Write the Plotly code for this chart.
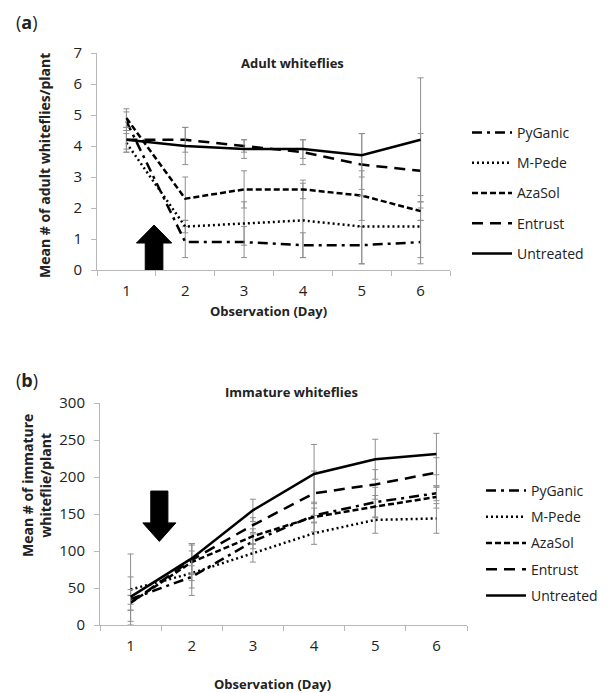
import plotly.graph_objects as go

days = [1, 2, 3, 4, 5, 6]
series_names = ["PyGanic", "M-Pede", "AzaSol", "Entrust", "Untreated"]

# Panel (a): adult whiteflies per plant
adult_pyganic = [4.8, 0.9, 0.9, 0.8, 0.8, 0.9]
adult_mpede = [4.1, 1.4, 1.5, 1.6, 1.4, 1.4]
adult_azasol = [4.9, 2.3, 2.6, 2.6, 2.4, 1.9]
adult_entrust = [4.2, 4.2, 4.0, 3.8, 3.4, 3.2]
adult_untreated = [4.2, 4.0, 3.9, 3.9, 3.7, 4.2]
adult_err_pyganic = [0.3, 0.5, 0.5, 0.4, 0.6, 0.7]
adult_err_mpede = [0.3, 0.2, 0.7, 1.2, 1.2, 1.0]
adult_err_azasol = [0.3, 0.7, 0.6, 0.3, 0.8, 0.3]
adult_err_entrust = [0.3, 0.4, 0.2, 0.4, 1.0, 1.2]
adult_err_untreated = [0.4, 0.6, 0.3, 0.3, 0.7, 2.0]

# Panel (b): immature whiteflies per plant
imm_pyganic = [35, 65, 113, 148, 166, 178]
imm_mpede = [48, 70, 97, 124, 142, 144]
imm_azasol = [30, 85, 120, 146, 160, 173]
imm_entrust = [30, 88, 135, 178, 190, 206]
imm_untreated = [38, 90, 155, 204, 224, 231]
imm_err_pyganic = [30, 15, 10, 10, 20, 10]
imm_err_mpede = [48, 30, 12, 15, 18, 20]
imm_err_azasol = [10, 25, 10, 20, 15, 15]
imm_err_entrust = [10, 20, 10, 30, 20, 20]
imm_err_untreated = [10, 20, 15, 40, 27, 28]

dashes = ["10px,5px,3px,5px", "2px,3px", "6px,3px", "11px,7px", "solid"]

adult_vals = [adult_pyganic, adult_mpede, adult_azasol, adult_entrust, adult_untreated]
adult_errs = [adult_err_pyganic, adult_err_mpede, adult_err_azasol, adult_err_entrust, adult_err_untreated]
imm_vals = [imm_pyganic, imm_mpede, imm_azasol, imm_entrust, imm_untreated]
imm_errs = [imm_err_pyganic, imm_err_mpede, imm_err_azasol, imm_err_entrust, imm_err_untreated]

FONT = "Open Sans"
TXT = "#222222"
AX = "#b8b8b8"
ERR = "#8f8f8f"

fig = go.Figure()

for name, vals, errs, dash in zip(series_names, adult_vals, adult_errs, dashes):
    fig.add_trace(go.Scatter(
        x=days, y=vals, name=name, mode="lines", xaxis="x", yaxis="y",
        line=dict(color="black", width=2.5, dash=dash),
        error_y=dict(type="data", array=errs, color=ERR, thickness=1, width=3),
        legend="legend", legendgroup="a" + name,
    ))

for name, vals, errs, dash in zip(series_names, imm_vals, imm_errs, dashes):
    fig.add_trace(go.Scatter(
        x=days, y=vals, name=name, mode="lines", xaxis="x2", yaxis="y2",
        line=dict(color="black", width=2.5, dash=dash),
        error_y=dict(type="data", array=errs, color=ERR, thickness=1, width=3),
        legend="legend2", legendgroup="b" + name,
    ))

W, H = 614, 693

def px(x):
    return x / W

def py(y):
    return 1 - y / H

cat_edges = [0.5, 1.5, 2.5, 3.5, 4.5, 5.5, 6.5]

def xaxis_def(dom, anchor, standoff):
    return dict(
        domain=dom, anchor=anchor, range=[0.5, 6.5], tickvals=days,
        ticktext=[str(d) for d in days], ticks="", showgrid=False, zeroline=False,
        showline=True, linecolor=AX, linewidth=1, automargin=False,
        tickfont=dict(family=FONT, size=15, color=TXT), ticklabelstandoff=standoff,
        minor=dict(tickvals=cat_edges, ticks="outside", ticklen=5, tickcolor=AX, showgrid=False),
    )

def yaxis_def(dom, anchor, rng, dtick):
    return dict(
        domain=dom, anchor=anchor, range=rng, dtick=dtick, ticks="outside", ticklen=5,
        tickcolor=AX, showgrid=False, zeroline=False, showline=True, linecolor=AX,
        linewidth=1, automargin=False, tickfont=dict(family=FONT, size=15, color=TXT),
        ticklabelstandoff=6,
    )

fig.update_layout(
    width=W, height=H, margin=dict(l=0, r=0, t=0, b=0, autoexpand=False),
    paper_bgcolor="white", plot_bgcolor="white",
    font=dict(family=FONT, color=TXT),
    xaxis=xaxis_def([px(97), px(450)], "y", 7),
    yaxis=yaxis_def([py(270), py(53)], "x", [0, 7], 1),
    xaxis2=xaxis_def([px(100), px(467)], "y2", 7),
    yaxis2=yaxis_def([py(625), py(403)], "x2", [0, 300], 50),
    legend=dict(x=px(467), y=py(117), xanchor="left", yanchor="top",
                font=dict(family=FONT, size=14, color=TXT), tracegroupgap=9,
                itemwidth=40, bgcolor="rgba(0,0,0,0)"),
    legend2=dict(x=px(481), y=py(475), xanchor="left", yanchor="top",
                 font=dict(family=FONT, size=14, color=TXT), tracegroupgap=5,
                 itemwidth=40, bgcolor="rgba(0,0,0,0)"),
)

# treatment arrows
fig.add_shape(type="path", xref="x", yref="y", fillcolor="black", line=dict(color="black", width=1),
              path="M 1.32 0 L 1.62 0 L 1.62 0.87 L 1.77 0.87 L 1.47 1.45 L 1.17 0.87 L 1.32 0.87 Z")
fig.add_shape(type="path", xref="x2", yref="y2", fillcolor="black", line=dict(color="black", width=1),
              path="M 1.33 181 L 1.61 181 L 1.61 138 L 1.74 138 L 1.47 113 L 1.20 138 L 1.33 138 Z")

ann = [
    dict(x=px(14), y=py(22), text="(<b>a</b>)", size=18, xanchor="left"),
    dict(x=px(14), y=py(380), text="(<b>b</b>)", size=18, xanchor="left"),
    dict(x=px(292), y=py(63), text="<b>Adult whiteflies</b>", size=13),
    dict(x=px(291), y=py(392), text="<b>Immature whiteflies</b>", size=13),
    dict(x=px(268), y=py(311), text="<b>Observation (Day)</b>", size=13),
    dict(x=px(272), y=py(684), text="<b>Observation (Day)</b>", size=13),
]
for a in ann:
    fig.add_annotation(x=a["x"], y=a["y"], xref="paper", yref="paper", text=a["text"],
                       showarrow=False, xanchor=a.get("xanchor", "center"), yanchor="middle",
                       font=dict(family=FONT, size=a["size"], color=TXT))

fig.add_annotation(x=px(45), y=py(166), xref="paper", yref="paper",
                   text="<b>Mean # of adult whiteflies/plant</b>", textangle=-90,
                   xanchor="center", yanchor="middle",
                   showarrow=False, font=dict(family=FONT, size=14, color=TXT))
fig.add_annotation(x=px(36), y=py(486), xref="paper", yref="paper",
                   text="<b>Mean # of immature<br>whiteflie/plant</b>", textangle=-90,
                   xanchor="center", yanchor="middle",
                   showarrow=False, font=dict(family=FONT, size=14, color=TXT))

fig.write_html("out.html")
